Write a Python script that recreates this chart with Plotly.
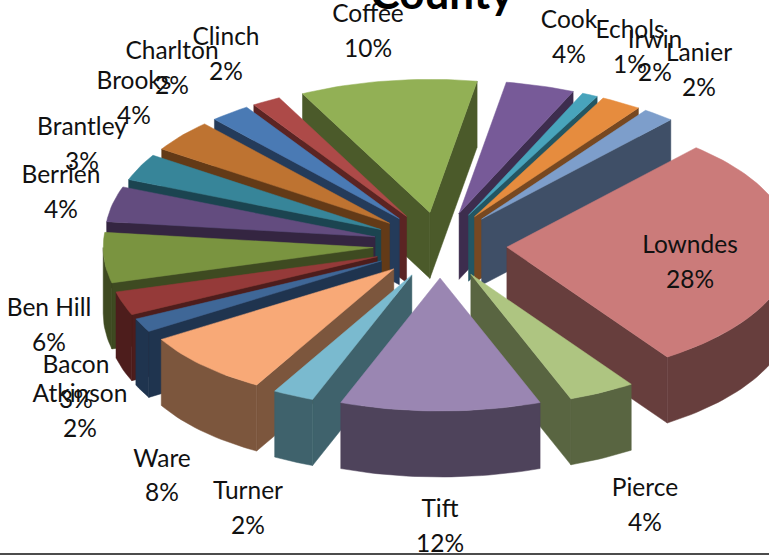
import math
import plotly.graph_objects as go

# ---- data (clockwise, alphabetical, as in the chart)
counties = ["Atkinson", "Bacon", "Ben Hill", "Berrien", "Brantley", "Brooks", "Charlton", "Clinch", "Coffee",
            "Cook", "Echols", "Irwin", "Lanier", "Lowndes", "Pierce", "Tift", "Turner", "Ware"]
shares = [1.7, 2.9, 6.1, 4.3, 3.3, 4.0, 2.4, 1.7, 10.1, 3.9, 0.9, 2.3, 1.8, 28.9, 3.8, 11.4, 2.4, 8.0]
percent_labels = [2, 3, 6, 4, 3, 4, 2, 2, 10, 4, 1, 2, 2, 28, 4, 12, 2, 8]
top_colors = ["#3F6797", "#953A39", "#7A9440", "#634C7F", "#378599", "#BE7331", "#4A7AB4", "#AD4A48", "#92B055",
              "#775A98", "#48A4BC", "#E68C3E", "#7D9ECB", "#CB7B7A", "#AEC581", "#9A86B2", "#7ABACF", "#F8A977"]
wall_colors = ["#1F344F", "#4D1D1C", "#3E4A21", "#342541", "#1B4450", "#633A17", "#243B5A", "#5B2423", "#4B5A2A",
               "#3D2D4E", "#235663", "#774821", "#3F4F67", "#673E3D", "#596541", "#4E435B", "#3F626C", "#7C563D"]
title_text = "County"

# ---- projection of the tilted, exploded pie
W, H = 769, 556
CX, CY = 440, 245
RX, RX_LEFT_SHRINK, RY = 285, 15, 133
PULL_X, PULL_Y = 67, 33
DEPTH = 66
START_DEG = 148.0

label_x = [80, 76, 49, 61, 82, 134, 172, 226, 368, 569, 630, 655, 699, 690, 645, 440, 248, 162]
name_y = [396, 367, 310, 177, 129, 83, 53, 39, 16, 22, 32, 42, 55, 247, 490, 511, 493, 461]
pct_y = [431, 402, 345, 212, 164, 118, 88, 74, 51, 57, 67, 75, 90, 282, 525, 546, 528, 495]


def rim(apex, deg):
    c, s = math.cos(math.radians(deg)), math.sin(math.radians(deg))
    rx = RX if c > 0 else RX - RX_LEFT_SHRINK * c * c
    return apex[0] + rx * c, apex[1] + RY * s


def poly(fig, pts, color):
    fig.add_trace(go.Scatter(
        x=[p[0] for p in pts] + [pts[0][0]], y=[p[1] for p in pts] + [pts[0][1]],
        mode="lines", fill="toself", fillcolor=color, line=dict(color=color, width=0.5),
        hoverinfo="skip", showlegend=False))


def down(p):
    return p[0], p[1] + DEPTH


total = sum(shares)
slices = []
a = START_DEG
for i, v in enumerate(shares):
    span = 360.0 * v / total
    slices.append((i, a, a + span))
    a += span

fig = go.Figure()
for i, a0, a1 in sorted(slices, key=lambda s: math.sin(math.radians((s[1] + s[2]) / 2))):
    mid = math.radians((a0 + a1) / 2)
    apex = (CX + PULL_X * math.cos(mid), CY + PULL_Y * math.sin(mid))
    n = max(3, int((a1 - a0) / 1.5))
    degs = [a0 + (a1 - a0) * k / n for k in range(n + 1)]
    degs = sorted(set(degs + [d for d in (180.0, 360.0, 540.0) if a0 < d < a1]))
    arc = [rim(apex, d) for d in degs]
    wall = wall_colors[i]
    if math.cos(math.radians(a0)) < 0:
        poly(fig, [apex, arc[0], down(arc[0]), down(apex)], wall)
    if math.cos(math.radians(a1)) > 0:
        poly(fig, [apex, arc[-1], down(arc[-1]), down(apex)], wall)
    front = [rim(apex, d) for d in degs if math.sin(math.radians(d)) >= -1e-9]
    if len(front) > 1:
        poly(fig, front + [down(p) for p in reversed(front)], wall)
    poly(fig, [apex] + arc, top_colors[i])

FONT = "Lato, Noto Sans, sans-serif"
fig.add_trace(go.Scatter(x=label_x, y=name_y, mode="text", text=counties, textposition="middle center",
                         textfont=dict(family=FONT, size=24.5, color="#111111"), hoverinfo="skip", showlegend=False))
fig.add_trace(go.Scatter(x=label_x, y=pct_y, mode="text", text=[f"{p}%" for p in percent_labels],
                         textposition="middle center", textfont=dict(family=FONT, size=24.5, color="#111111"),
                         hoverinfo="skip", showlegend=False))
fig.add_trace(go.Scatter(x=[442], y=[-2], mode="text", text=[f"<b>{title_text}</b>"], textposition="middle center",
                         textfont=dict(family=FONT, size=44, color="#000000"), hoverinfo="skip", showlegend=False))

fig.add_shape(type="line", x0=0, x1=W, y0=554, y1=554, line=dict(color="#111111", width=1.5))
fig.update_layout(
    width=W, height=H, margin=dict(l=0, r=0, t=0, b=0), paper_bgcolor="white", plot_bgcolor="white",
    xaxis=dict(range=[0, W], visible=False, fixedrange=True),
    yaxis=dict(range=[H, 0], visible=False, fixedrange=True),
    showlegend=False,
)
fig.write_html("out.html", config={"displayModeBar": False},
               post_script="document.body.style.margin='0';document.body.style.overflow='hidden';")
